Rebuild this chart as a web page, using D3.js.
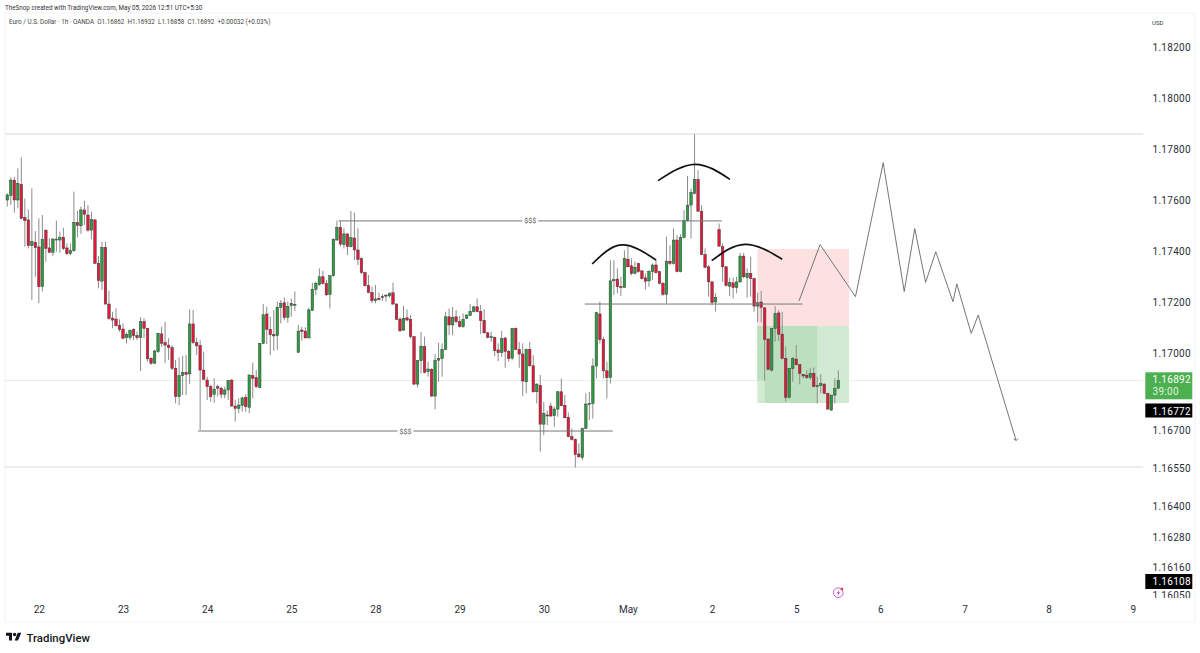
<!DOCTYPE html>
<html><head><meta charset="utf-8">
<script src="https://cdn.jsdelivr.net/npm/d3@7/dist/d3.min.js"></script>
<style>html,body{margin:0;padding:0;background:#fff}svg{display:block}text{font-family:Roboto,"Liberation Sans",sans-serif;white-space:pre}</style>
</head><body><div id="c"></div>
<script>
const opens=[1.17600,1.17618,1.17678,1.17600,1.17661,1.17531,1.17522,1.17421,1.17434,1.17416,
1.17260,1.17482,1.17412,1.17395,1.17443,1.17443,1.17454,1.17412,1.17390,1.17401,
1.17512,1.17499,1.17561,1.17541,1.17482,1.17522,1.17352,1.17282,1.17414,1.17192,
1.17137,1.17133,1.17109,1.17094,1.17060,1.17060,1.17092,1.17068,1.17060,1.17123,
1.17097,1.16979,1.16960,1.17005,1.17075,1.17041,1.17031,1.17021,1.16940,1.16829,
1.16911,1.16924,1.16918,1.17114,1.17041,1.17029,1.16933,1.16894,1.16868,1.16838,
1.16868,1.16862,1.16838,1.16855,1.16894,1.16792,1.16783,1.16794,1.16826,1.16787,
1.16911,1.16903,1.16864,1.17038,1.17153,1.17093,1.17072,1.17068,1.17179,1.17197,
1.17140,1.17186,1.17190,1.17003,1.17090,1.17086,1.17059,1.17167,1.17250,1.17268,
1.17299,1.17273,1.17230,1.17303,1.17443,1.17493,1.17425,1.17467,1.17417,1.17451,
1.17404,1.17370,1.17315,1.17265,1.17237,1.17205,1.17214,1.17221,1.17225,1.17224,
1.17236,1.17192,1.17133,1.17090,1.17138,1.17132,1.17064,1.16878,1.16970,1.17025,
1.16927,1.16936,1.16831,1.16972,1.16978,1.17014,1.17142,1.17110,1.17142,1.17123,
1.17103,1.17136,1.17147,1.17162,1.17181,1.17162,1.17128,1.17079,1.17061,1.17061,
1.17012,1.17001,1.17059,1.17006,1.16980,1.17096,1.17014,1.16996,1.16887,1.17014,
1.16950,1.16848,1.16873,1.16721,1.16757,1.16792,1.16754,1.16780,1.16848,1.16795,
1.16748,1.16672,1.16661,1.16604,1.16591,1.16704,1.16798,1.16802,1.16949,1.17153,
1.17053,1.16930,1.16904,1.17283,1.17290,1.17260,1.17257,1.17368,1.17342,1.17312,
1.17351,1.17322,1.17295,1.17283,1.17319,1.17345,1.17319,1.17273,1.17230,1.17360,
1.17351,1.17443,1.17319,1.17453,1.17519,1.17580,1.17626,1.17681,1.17556,1.17386,
1.17338,1.17279,1.17200,1.17484,1.17417,1.17338,1.17262,1.17275,1.17257,1.17279,
1.17380,1.17296,1.17312,1.17292,1.17184,1.17200,1.17177,1.17055,1.16933,1.17096,
1.17157,1.17074,1.16979,1.16826,1.16940,1.16976,1.16954,1.16916,1.16913,1.16904,
1.16920,1.16868,1.16872,1.16878,1.16842,1.16776,1.16835,1.16862];
const highs=[1.17626,1.17689,1.17691,1.17724,1.17767,1.17606,1.17563,1.17646,1.17478,1.17528,
1.17541,1.17482,1.17450,1.17450,1.17519,1.17476,1.17491,1.17430,1.17430,1.17633,
1.17558,1.17574,1.17597,1.17580,1.17554,1.17524,1.17380,1.17437,1.17437,1.17244,
1.17162,1.17175,1.17132,1.17116,1.17080,1.17093,1.17097,1.17084,1.17140,1.17136,
1.17097,1.16983,1.17012,1.17080,1.17103,1.17123,1.17058,1.17031,1.16973,1.16983,
1.16988,1.16992,1.17171,1.17169,1.17061,1.17051,1.17005,1.16907,1.16875,1.16901,
1.16875,1.16868,1.16868,1.16894,1.16897,1.16816,1.16822,1.16829,1.16839,1.16914,
1.16962,1.16933,1.17038,1.17192,1.17182,1.17143,1.17169,1.17201,1.17208,1.17218,
1.17201,1.17214,1.17241,1.17110,1.17103,1.17101,1.17178,1.17276,1.17280,1.17332,
1.17323,1.17286,1.17303,1.17450,1.17519,1.17519,1.17489,1.17469,1.17557,1.17550,
1.17489,1.17375,1.17319,1.17306,1.17260,1.17267,1.17237,1.17231,1.17231,1.17238,
1.17276,1.17195,1.17140,1.17185,1.17171,1.17149,1.17066,1.16972,1.17083,1.17064,
1.16966,1.16940,1.16996,1.17040,1.17038,1.17162,1.17175,1.17181,1.17168,1.17145,
1.17155,1.17151,1.17192,1.17184,1.17214,1.17188,1.17172,1.17083,1.17083,1.17064,
1.17038,1.17087,1.17061,1.17012,1.17099,1.17100,1.17044,1.17038,1.17018,1.17044,
1.16992,1.16881,1.16914,1.16809,1.16774,1.16805,1.16789,1.16851,1.16900,1.16835,
1.16767,1.16704,1.16665,1.16646,1.16707,1.16842,1.16848,1.16979,1.17162,1.17201,
1.17064,1.16966,1.17364,1.17364,1.17332,1.17299,1.17403,1.17423,1.17371,1.17358,
1.17354,1.17325,1.17312,1.17325,1.17351,1.17367,1.17322,1.17279,1.17456,1.17423,
1.17488,1.17462,1.17466,1.17560,1.17694,1.17645,1.17858,1.17717,1.17580,1.17410,
1.17345,1.17282,1.17234,1.17508,1.17430,1.17341,1.17295,1.17295,1.17299,1.17393,
1.17393,1.17332,1.17377,1.17295,1.17236,1.17244,1.17181,1.17057,1.17096,1.17184,
1.17168,1.17162,1.17025,1.16942,1.16985,1.17031,1.16955,1.16917,1.16933,1.16940,
1.16943,1.16907,1.16917,1.16881,1.16844,1.16835,1.16900,1.16932];
const lows=[1.17574,1.17580,1.17550,1.17567,1.17524,1.17417,1.17410,1.17208,1.17299,1.17195,
1.17241,1.17358,1.17391,1.17380,1.17397,1.17393,1.17404,1.17384,1.17384,1.17397,
1.17454,1.17467,1.17502,1.17476,1.17446,1.17349,1.17254,1.17247,1.17190,1.17129,
1.17097,1.17103,1.17084,1.17054,1.17038,1.17051,1.17051,1.17051,1.16929,1.17058,
1.16966,1.16953,1.16957,1.17001,1.17025,1.16960,1.16973,1.16933,1.16803,1.16796,
1.16835,1.16835,1.16879,1.17035,1.16992,1.16698,1.16894,1.16816,1.16809,1.16805,
1.16829,1.16822,1.16822,1.16816,1.16790,1.16731,1.16764,1.16770,1.16770,1.16764,
1.16822,1.16862,1.16862,1.17035,1.17035,1.16992,1.17009,1.17012,1.17116,1.17129,
1.17119,1.17143,1.17165,1.17001,1.17048,1.17058,1.17058,1.17166,1.17228,1.17263,
1.17269,1.17224,1.17175,1.17299,1.17441,1.17417,1.17410,1.17384,1.17414,1.17365,
1.17345,1.17310,1.17260,1.17234,1.17195,1.17195,1.17205,1.17205,1.17201,1.17218,
1.17189,1.17129,1.17083,1.17086,1.17127,1.17057,1.16874,1.16865,1.16920,1.16920,
1.16907,1.16829,1.16779,1.16887,1.16907,1.17011,1.17070,1.17070,1.17116,1.17100,
1.17099,1.17133,1.17145,1.17159,1.17159,1.17074,1.17077,1.17057,1.17044,1.16988,
1.16968,1.16985,1.16942,1.16966,1.16972,1.17011,1.16942,1.16831,1.16842,1.16946,
1.16844,1.16802,1.16613,1.16678,1.16717,1.16748,1.16711,1.16750,1.16792,1.16744,
1.16669,1.16656,1.16551,1.16589,1.16580,1.16703,1.16737,1.16743,1.16900,1.17038,
1.16900,1.16822,1.16881,1.17227,1.17234,1.17224,1.17256,1.17336,1.17305,1.17309,
1.17315,1.17288,1.17249,1.17260,1.17286,1.17312,1.17269,1.17224,1.17194,1.17345,
1.17347,1.17316,1.17316,1.17449,1.17515,1.17449,1.17623,1.17554,1.17384,1.17332,
1.17221,1.17188,1.17162,1.17417,1.17279,1.17260,1.17223,1.17214,1.17234,1.17275,
1.17292,1.17217,1.17221,1.17162,1.17122,1.17120,1.16891,1.16933,1.16927,1.17044,
1.17048,1.16975,1.16809,1.16822,1.16887,1.16951,1.16877,1.16900,1.16898,1.16894,
1.16865,1.16802,1.16842,1.16839,1.16779,1.16774,1.16802,1.16858];
const closes=[1.17620,1.17678,1.17600,1.17665,1.17528,1.17519,1.17421,1.17437,1.17413,1.17260,
1.17446,1.17410,1.17395,1.17447,1.17447,1.17454,1.17410,1.17390,1.17401,1.17512,
1.17501,1.17561,1.17544,1.17482,1.17524,1.17352,1.17284,1.17414,1.17192,1.17136,
1.17129,1.17107,1.17092,1.17058,1.17072,1.17089,1.17068,1.17060,1.17123,1.17097,
1.16977,1.16960,1.17008,1.17077,1.17038,1.17031,1.17021,1.16940,1.16829,1.16911,
1.16924,1.16916,1.17114,1.17041,1.17028,1.16933,1.16897,1.16868,1.16829,1.16858,
1.16862,1.16838,1.16855,1.16892,1.16792,1.16783,1.16796,1.16824,1.16790,1.16914,
1.16901,1.16868,1.17038,1.17150,1.17093,1.17072,1.17067,1.17179,1.17195,1.17139,
1.17182,1.17195,1.17191,1.17086,1.17084,1.17059,1.17169,1.17250,1.17273,1.17299,
1.17273,1.17228,1.17303,1.17446,1.17492,1.17427,1.17467,1.17417,1.17452,1.17404,
1.17367,1.17315,1.17264,1.17237,1.17205,1.17212,1.17213,1.17220,1.17227,1.17234,
1.17192,1.17132,1.17087,1.17136,1.17129,1.17064,1.16878,1.16970,1.17027,1.16924,
1.16937,1.16831,1.16972,1.16978,1.17014,1.17142,1.17110,1.17140,1.17123,1.17103,
1.17132,1.17149,1.17163,1.17181,1.17162,1.17127,1.17079,1.17061,1.17064,1.17009,
1.17001,1.17056,1.17006,1.16978,1.17096,1.17014,1.16996,1.16890,1.17014,1.16950,
1.16848,1.16878,1.16721,1.16763,1.16753,1.16753,1.16780,1.16848,1.16793,1.16746,
1.16672,1.16661,1.16602,1.16593,1.16704,1.16800,1.16802,1.16949,1.17158,1.17053,
1.16930,1.16903,1.17283,1.17288,1.17260,1.17256,1.17371,1.17338,1.17312,1.17336,
1.17319,1.17292,1.17281,1.17319,1.17345,1.17315,1.17273,1.17230,1.17360,1.17351,
1.17443,1.17319,1.17453,1.17519,1.17580,1.17630,1.17681,1.17556,1.17386,1.17336,
1.17279,1.17198,1.17218,1.17419,1.17338,1.17265,1.17277,1.17257,1.17279,1.17380,
1.17299,1.17312,1.17292,1.17184,1.17197,1.17179,1.17053,1.16936,1.17096,1.17155,
1.17074,1.16979,1.16826,1.16940,1.16979,1.16954,1.16920,1.16910,1.16904,1.16920,
1.16868,1.16872,1.16880,1.16842,1.16780,1.16835,1.16861,1.16892];

const priceTicks=[1.182,1.18,1.178,1.176,1.174,1.172,1.17,1.167,1.1655,1.164,1.1628,1.1616,1.1605];
const dayTickBars=[9,33,57,81,105,129,153,177,201,225,249,273,297,321];
const dayTickLabels=["22","23","24","25","28","29","30","May","2","5","6","7","8","9"];
const lastPrice=1.16892, stopLevel=1.16772, lowLevel=1.16108;
const fullLines=[1.17859,1.16553];
const segments=[{from:94.5,to:203.8,price:1.17518,label:"$$$"},{from:54.4,to:172.7,price:1.16694,label:"$$$"},{from:164.7,to:226.8,price:1.17192,label:""}];
const arcs=[[[166.8,1.17349],[175.2,1.17424],[185,1.17365]],[[185.6,1.17676],[196.1,1.17740],[206.1,1.17681]],[[200.9,1.17362],[210.4,1.17426],[221,1.17368]]];
const zigzagBars=[225.8,231.8,241.9,249.8,255.8,258.8,261.9,264.8,269.7,270.8,274.9,276.9,287.7];
const zigzagPrices=[1.17204,1.17425,1.17221,1.17746,1.17241,1.17488,1.17277,1.17397,1.17201,1.17271,1.17077,1.17149,1.16657];
const boxBars=[213.9,240.05], boxTop=1.17408, boxEntry=1.17106, boxBottom=1.16804;

const W=1200,H=653,plotL=5,plotR=1143,plotT=13,plotB=598,frameR=1195,frameB=622;
const x=d3.scaleLinear().domain([0,237]).range([7.3,838.3]);
const y=d3.scaleLinear().domain([1.182,1.1605]).range([47,595.25]);
const svg=d3.select("#c").append("svg").attr("width",W).attr("height",H);
const defs=svg.append("defs");
defs.append("clipPath").attr("id","plot").append("rect").attr("x",plotL).attr("y",plotT).attr("width",plotR-plotL).attr("height",plotB-plotT);
defs.append("clipPath").attr("id","scale").append("rect").attr("x",plotR).attr("y",plotT).attr("width",frameR-plotR).attr("height",plotB-plotT);

svg.append("rect").attr("x",plotL).attr("y",plotT).attr("width",frameR-plotL).attr("height",frameB-plotT).attr("fill","#fff").attr("stroke","#f0f3fa");
svg.append("text").attr("x",5).attr("y",9.5).attr("font-size",6.3).attr("fill","#333").text("TheSnop created with TradingView.com, May 05, 2026 12:51 UTC+5:30");
svg.append("text").attr("x",9).attr("y",23.7).attr("font-size",6.3).attr("fill","#444").text("Euro / U.S. Dollar · 1h · OANDA  O1.16862  H1.16932  L1.16858  C1.16892  +0.00032 (+0.03%)");
svg.append("text").attr("x",1152).attr("y",24.5).attr("font-size",6).attr("fill","#333").text("USD");

const plot=svg.append("g").attr("clip-path","url(#plot)");
plot.selectAll("line.full").data(fullLines).join("line").attr("class","full")
 .attr("x1",plotL).attr("x2",plotR).attr("y1",d=>y(d)).attr("y2",d=>y(d)).attr("stroke","#d0d0d0").attr("stroke-width",0.8);
plot.append("line").attr("x1",plotL).attr("x2",plotR).attr("y1",y(lastPrice)).attr("y2",y(lastPrice)).attr("stroke","#e3f0e3").attr("stroke-width",1);

const rect=(x0,x1,p0,p1,f)=>plot.append("rect").attr("x",x(x0)).attr("width",x(x1)-x(x0)).attr("y",y(p0)).attr("height",y(p1)-y(p0)).attr("fill",f);
rect(boxBars[0],boxBars[1],boxTop,boxEntry,"#fde1e1");
rect(boxBars[0],boxBars[1],boxEntry,boxBottom,"#d2e9d3");
rect(boxBars[0],231,boxEntry,lastPrice,"#bcdfbe");
rect(216,231,lastPrice,boxBottom,"#bcdfbe");

const idx=d3.range(opens.length);
plot.append("g").selectAll("line").data(idx).join("line")
 .attr("x1",i=>x(i)).attr("x2",i=>x(i)).attr("y1",i=>y(highs[i])).attr("y2",i=>y(lows[i])).attr("stroke","#8c8c8c").attr("stroke-width",1);
plot.append("g").selectAll("rect").data(idx).join("rect")
 .attr("x",i=>x(i)-1.25).attr("width",2.5)
 .attr("y",i=>y(Math.max(opens[i],closes[i])))
 .attr("height",i=>Math.max(1,Math.abs(y(opens[i])-y(closes[i]))))
 .attr("fill",i=>closes[i]>=opens[i]?"#2b9e40":"#e8173a").attr("stroke","#3a3a3a").attr("stroke-width",0.5);

segments.forEach(s=>{
 plot.append("line").attr("x1",x(s.from)).attr("x2",x(s.to)).attr("y1",y(s.price)).attr("y2",y(s.price)).attr("stroke","#777").attr("stroke-width",1);
 if(s.label){const m=(x(s.from)+x(s.to))/2;
  plot.append("rect").attr("x",m-8).attr("width",16).attr("y",y(s.price)-4).attr("height",8).attr("fill","#fff");
  plot.append("text").attr("x",m).attr("y",y(s.price)+2.5).attr("text-anchor","middle").attr("font-size",7).attr("fill","#555").text(s.label);}
});
const arcLine=d3.line().x(d=>x(d[0])).y(d=>y(d[1])).curve(d3.curveNatural);
plot.selectAll("path.arc").data(arcs).join("path").attr("class","arc").attr("d",arcLine).attr("fill","none").attr("stroke","#111").attr("stroke-width",1.7);
const zig=d3.line().x(i=>x(zigzagBars[i])).y(i=>y(zigzagPrices[i]));
plot.append("path").attr("d",zig(d3.range(zigzagBars.length))).attr("fill","none").attr("stroke","#666").attr("stroke-width",0.9);
const n=zigzagBars.length-1,ex=x(zigzagBars[n]),ey=y(zigzagPrices[n]);
plot.append("path").attr("d",`M${ex-2.5},${ey-1.5}L${ex},${ey}L${ex+2.2},${ey-1.8}`).attr("fill","none").attr("stroke","#666").attr("stroke-width",0.8);

// lightning badge
const b=svg.append("g").attr("transform","translate(838.3,592.7)");
b.append("circle").attr("r",4.8).attr("fill","#fff").attr("stroke","#c44fd0").attr("stroke-width",0.9);
b.append("path").attr("d","M1,-3L-2,0.5H-0.2L-1,3L2,-0.5H0.2Z").attr("fill","#c44fd0");
b.append("circle").attr("cx",3.6).attr("cy",-3.6).attr("r",1.4).attr("fill","#f23645");

// axes
const yAxis=d3.axisRight(y).tickValues(priceTicks).tickSize(0).tickPadding(0).tickFormat(d3.format(".5f"));
const ya=svg.append("g").attr("clip-path","url(#scale)").append("g").attr("transform","translate(1152.5,0.5)").call(yAxis);
ya.select(".domain").remove();
ya.selectAll("text").attr("font-size",10).attr("fill","#2a2e39").attr("font-family","Roboto").attr("letter-spacing","0.3px");
const xAxis=d3.axisBottom(x).tickValues(dayTickBars).tickSize(0).tickPadding(0).tickFormat((d,i)=>dayTickLabels[i]);
const xa=svg.append("g").attr("transform","translate(0,605.5)").call(xAxis);
xa.select(".domain").remove();
xa.selectAll("text").attr("font-size",10).attr("fill","#2a2e39").attr("font-family","Roboto");

const tag=(top,h,fill,p,sub)=>{
 svg.append("rect").attr("x",1145.3).attr("y",top).attr("width",47).attr("height",h).attr("fill",fill);
 svg.append("text").attr("x",1152.5).attr("y",top+11).attr("font-size",10).attr("fill","#fff").attr("letter-spacing","0.3px").text(d3.format(".5f")(p));
 if(sub) svg.append("text").attr("x",1152.5).attr("y",top+23).attr("font-size",10).attr("fill","#dff3df").attr("letter-spacing","0.3px").text(sub);
};
tag(372.3,27,"#4caf50",lastPrice,"39:00");
tag(403.5,14,"#000",stopLevel);
tag(574,15,"#000",lowLevel);

// brand
const logo=svg.append("g").attr("transform","translate(6,631) scale(0.43)").attr("fill","#131722");
logo.append("path").attr("d","M14 22H7V11H0V4h14v18zM28 22h-8l7.5-18h8L28 22z");
logo.append("circle").attr("cx",20).attr("cy",8).attr("r",4);
svg.append("text").attr("x",26.5).attr("y",641.5).attr("font-size",11.4).attr("font-weight",500).attr("font-family","Inter").attr("fill","#131722").text("TradingView");
</script></body></html>
